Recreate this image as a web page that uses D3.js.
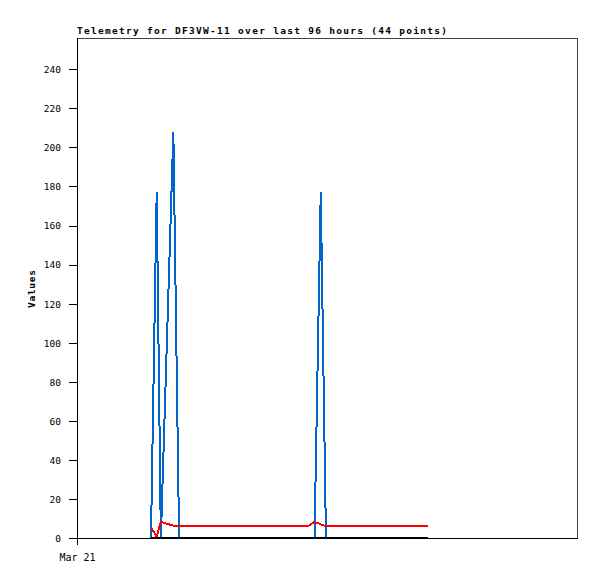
<!DOCTYPE html>
<html>
<head>
<meta charset="utf-8">
<script src="https://cdn.jsdelivr.net/npm/d3@7"></script>
<style>
  body { margin: 0; background: #fff; }
  svg { display: block; }
</style>
</head>
<body>
<svg id="chart" width="597" height="579"></svg>
<script>
const titleText = "Telemetry for DF3VW-11 over last 96 hours (44 points)";
const yLabel = "Values";
const xDomain = ["2024-03-21T00:00Z", "2024-03-25T00:00Z"];
const xTicks = ["2024-03-21T00:00Z"];
const yTicks = [0, 20, 40, 60, 80, 100, 120, 140, 160, 180, 200, 220, 240];
const yMax = 256;

const times = [
  "2024-03-21T14:12Z","2024-03-21T15:18Z","2024-03-21T16:06Z","2024-03-21T18:30Z","2024-03-21T19:36Z",
  "2024-03-21T20:48Z","2024-03-21T22:00Z","2024-03-21T23:12Z","2024-03-22T00:24Z","2024-03-22T01:36Z",
  "2024-03-22T02:48Z","2024-03-22T04:00Z","2024-03-22T05:18Z","2024-03-22T06:30Z","2024-03-22T07:42Z",
  "2024-03-22T08:54Z","2024-03-22T10:06Z","2024-03-22T11:18Z","2024-03-22T12:30Z","2024-03-22T13:42Z",
  "2024-03-22T14:54Z","2024-03-22T16:06Z","2024-03-22T17:18Z","2024-03-22T18:30Z","2024-03-22T19:24Z",
  "2024-03-22T20:18Z","2024-03-22T21:36Z","2024-03-22T22:48Z","2024-03-22T23:48Z","2024-03-23T01:00Z",
  "2024-03-23T02:18Z","2024-03-23T03:30Z","2024-03-23T04:42Z","2024-03-23T05:54Z","2024-03-23T07:06Z",
  "2024-03-23T08:18Z","2024-03-23T09:30Z","2024-03-23T10:42Z","2024-03-23T11:54Z","2024-03-23T13:06Z",
  "2024-03-23T14:18Z","2024-03-23T15:30Z","2024-03-23T16:42Z","2024-03-23T19:18Z"
];
const blueValues = [
  0, 177, 0, 208, 0,
  0, 0, 0, 0, 0,
  0, 0, 0, 0, 0,
  0, 0, 0, 0, 0,
  0, 0, 0, 0, 0,
  0, 0, 177, 0, 0,
  0, 0, 0, 0, 0,
  0, 0, 0, 0, 0,
  0, 0, 0, 0
];
const redValues = [
  5.5, 0.7, 8.3, 6.3, 5.9,
  6, 6, 6, 6, 6,
  6, 6, 6, 6, 6,
  6, 6, 6, 6, 6,
  6, 6, 6, 6, 6,
  6, 8.3, 7.0, 6, 6,
  6, 6, 6, 6, 6,
  6, 6, 6, 6, 6,
  6, 6, 6, 6
];
const blackValues = [
  0, 0, 0, 0, 0, 0, 0, 0, 0, 0, 0,
  0, 0, 0, 0, 0, 0, 0, 0, 0, 0, 0,
  0, 0, 0, 0, 0, 0, 0, 0, 0, 0, 0,
  0, 0, 0, 0, 0, 0, 0, 0, 0, 0, 0
];

const svg = d3.select("#chart");
const L = 77, R = 577, T = 38, B = 538;

const x = d3.scaleUtc().domain(xDomain.map(d => new Date(d))).range([L, R]);
const y = d3.scaleLinear().domain([0, yMax]).range([B, T]);

const dates = times.map(t => new Date(t));
const FONT = "'DejaVu Sans Mono', monospace";

// frame top/right
svg.append("path")
  .attr("d", `M${L},${T + 0.5}H${R + 0.5}V${B}`)
  .attr("fill", "none").attr("stroke", "#444").attr("stroke-width", 1)
  .attr("shape-rendering", "crispEdges");

// series
const line = d3.line().x((d, i) => x(dates[i])).y(d => y(d));
const series = [
  { values: blueValues, color: "#0066cc" },
  { values: redValues, color: "#ff0000" },
  { values: blackValues, color: "#000000" }
];
series.forEach(s => {
  svg.append("path")
    .attr("d", line(s.values))
    .attr("fill", "none")
    .attr("stroke", s.color)
    .attr("stroke-width", 2)
    .attr("stroke-linejoin", "miter")
    .attr("shape-rendering", "crispEdges");
});

// y axis
const yAxis = d3.axisLeft(y).tickValues(yTicks).tickSize(8).tickSizeOuter(0).tickPadding(8);
const gy = svg.append("g").attr("transform", `translate(${L},0)`).call(yAxis);
gy.select(".domain").remove();
gy.selectAll(".tick line").attr("stroke", "#000").attr("shape-rendering", "crispEdges");
gy.selectAll(".tick text")
  .attr("font-family", FONT).attr("font-size", "9.5px").attr("fill", "#000")
  .attr("dy", "0.36em");

// x axis
const xAxis = d3.axisBottom(x).tickValues(xTicks.map(d => new Date(d)))
  .tickFormat(d3.utcFormat("%b %d")).tickSize(7).tickSizeOuter(0).tickPadding(9);
const gx = svg.append("g").attr("transform", `translate(0,${B})`).call(xAxis);
gx.select(".domain").remove();
gx.selectAll(".tick line").attr("stroke", "#000").attr("shape-rendering", "crispEdges");
gx.selectAll(".tick text")
  .attr("font-family", FONT).attr("font-size", "10px").attr("fill", "#000");

// left and bottom axis lines
svg.append("path")
  .attr("d", `M${L + 0.5},${T}V${B + 0.5}H${R + 0.5}`)
  .attr("fill", "none").attr("stroke", "#000").attr("stroke-width", 1)
  .attr("shape-rendering", "crispEdges");

// title
svg.append("text")
  .attr("x", L).attr("y", 34)
  .attr("font-family", FONT).attr("font-size", "9.5px").attr("font-weight", "bold")
  .attr("textLength", 370).attr("lengthAdjust", "spacing")
  .text(titleText);

// y label
svg.append("text")
  .attr("transform", `translate(35,${289}) rotate(-90)`)
  .attr("text-anchor", "middle")
  .attr("font-family", FONT).attr("font-size", "9.5px").attr("font-weight", "bold")
  .attr("textLength", 38).attr("lengthAdjust", "spacing")
  .text(yLabel);
</script>
</body>
</html>
